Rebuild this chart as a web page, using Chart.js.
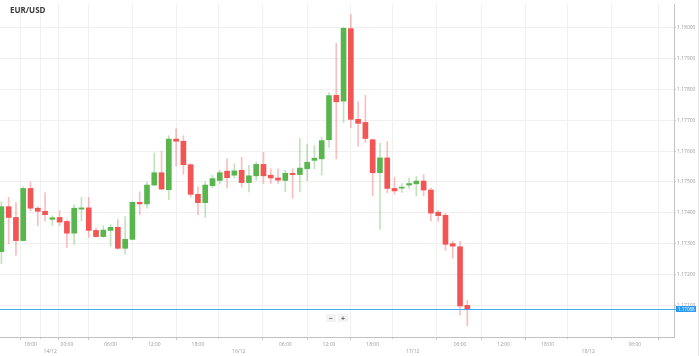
<!DOCTYPE html>
<html><head><meta charset="utf-8">
<script src="https://cdn.jsdelivr.net/npm/chart.js@4"></script>
<style>html,body{margin:0;padding:0;background:#fff;overflow:hidden}#wrap{width:699px;height:356px;position:relative}</style>
</head><body><div id="wrap"><canvas id="c" width="699" height="356"></canvas></div>
<script>
// EUR/USD hourly candles
const openP  = [1.17274,1.17420,1.17385,1.17310,1.17479,1.17415,1.17405,1.17379,1.17385,1.17372,
                1.17334,1.17412,1.17416,1.17343,1.17323,1.17343,1.17353,1.17285,1.17314,1.17434,
                1.17429,1.17490,1.17530,1.17475,1.17639,1.17632,1.17556,1.17460,1.17433,1.17488,
                1.17505,1.17535,1.17522,1.17538,1.17498,1.17520,1.17557,1.17522,1.17513,1.17505,
                1.17528,1.17524,1.17543,1.17570,1.17575,1.17637,1.17781,1.17762,1.17997,1.17703,
                1.17693,1.17637,1.17530,1.17578,1.17479,1.17480,1.17490,1.17494,1.17503,1.17474,
                1.17402,1.17392,1.17300,1.17290,1.17100];
const highP  = [1.17436,1.17450,1.17433,1.17484,1.17500,1.17420,1.17466,1.17390,1.17407,1.17378,
                1.17426,1.17450,1.17450,1.17351,1.17358,1.17362,1.17378,1.17388,1.17436,1.17468,
                1.17500,1.17594,1.17600,1.17650,1.17673,1.17650,1.17559,1.17484,1.17500,1.17522,
                1.17538,1.17575,1.17559,1.17580,1.17554,1.17564,1.17596,1.17543,1.17543,1.17538,
                1.17543,1.17641,1.17623,1.17618,1.17644,1.17789,1.17949,1.18002,1.18043,1.17760,
                1.17781,1.17639,1.17625,1.17631,1.17516,1.17495,1.17513,1.17518,1.17524,1.17481,
                1.17408,1.17399,1.17308,1.17308,1.17116];
const lowP   = [1.17235,1.17300,1.17263,1.17308,1.17406,1.17358,1.17374,1.17359,1.17358,1.17288,
                1.17298,1.17374,1.17321,1.17321,1.17321,1.17291,1.17282,1.17266,1.17312,1.17394,
                1.17415,1.17488,1.17475,1.17443,1.17551,1.17525,1.17451,1.17394,1.17385,1.17482,
                1.17495,1.17481,1.17513,1.17484,1.17468,1.17506,1.17495,1.17495,1.17495,1.17468,
                1.17447,1.17468,1.17504,1.17543,1.17522,1.17612,1.17575,1.17692,1.17676,1.17616,
                1.17628,1.17455,1.17346,1.17465,1.17460,1.17466,1.17479,1.17455,1.17455,1.17374,
                1.17372,1.17278,1.17253,1.17068,1.17034];
const closeP = [1.17420,1.17385,1.17310,1.17479,1.17415,1.17405,1.17394,1.17384,1.17370,1.17334,
                1.17415,1.17416,1.17343,1.17323,1.17344,1.17353,1.17285,1.17314,1.17434,1.17429,
                1.17490,1.17530,1.17477,1.17639,1.17632,1.17556,1.17460,1.17433,1.17490,1.17511,
                1.17530,1.17514,1.17536,1.17498,1.17520,1.17557,1.17520,1.17513,1.17506,1.17528,
                1.17524,1.17545,1.17564,1.17577,1.17634,1.17780,1.17760,1.17998,1.17703,1.17690,
                1.17641,1.17530,1.17578,1.17479,1.17471,1.17483,1.17495,1.17503,1.17474,1.17399,
                1.17391,1.17298,1.17292,1.17098,1.17088];

// x-axis ticks (candle-slot positions) and their labels
const tickPos    = [4, 6.7, 9, 15, 21, 27, 32.6, 39, 45, 51, 56.5, 63, 69, 75, 80.6, 87];
const tickLabels = ['18:00','14/12','00:00','06:00','12:00','18:00','16/12','06:00','12:00','18:00','17/12','06:00','12:00','18:00','18/12','06:00'];
// y-axis ticks
const yTicks = [1.171,1.172,1.173,1.174,1.175,1.176,1.177,1.178,1.179,1.180];
const lastPrice = 1.17088;
const symbol = 'EUR/USD';

const idx = openP.map((_, i) => i);
const isUp = i => closeP[i] >= openP[i];
const GREEN = '#59b64f', RED = '#f35454';
const GREEN_W = 'rgba(89,182,79,0.38)', RED_W = 'rgba(243,84,84,0.38)';
const FONT = 'Open Sans';

const overlay = {
  id: 'overlay',
  afterDraw(chart) {
    const {ctx, chartArea, scales} = chart;
    ctx.save();
    // last price line
    const y = Math.round(scales.y.getPixelForValue(lastPrice));
    ctx.fillStyle = '#3fb0f7';
    ctx.fillRect(chartArea.left, y, chartArea.right + 2 - chartArea.left, 1);
    // title
    ctx.fillStyle = '#3a3a3a';
    ctx.font = 'bold 8px "' + FONT + '"';
    ctx.textBaseline = 'alphabetic';
    ctx.textAlign = 'left';
    ctx.fillText(symbol, 10, 13);
    // last price tag
    ctx.fillStyle = '#2a9af0';
    ctx.fillRect(chartArea.right + 2, y - 3, 20, 6);
    ctx.fillStyle = '#ffffff';
    ctx.font = '4.5px "' + FONT + '"';
    ctx.textBaseline = 'middle';
    ctx.fillText(lastPrice.toFixed(5), chartArea.right + 4, y + 0.5);
    // zoom controls
    const cy = 318;
    [[331, '\u2212'], [343, '+']].forEach(([cx, t]) => {
      ctx.fillStyle = '#f3f3f3';
      ctx.fillRect(cx - 5, cy - 4, 10, 8);
      ctx.fillStyle = '#555';
      ctx.font = 'bold 7px "' + FONT + '"';
      ctx.textAlign = 'center';
      ctx.textBaseline = 'middle';
      ctx.fillText(t, cx, cy + 0.5);
    });
    // far right frame line
    ctx.fillStyle = '#e6e6e6';
    ctx.fillRect(698, 0, 1, 356);
    ctx.restore();
  }
};

new Chart(document.getElementById('c').getContext('2d'), {
  type: 'bar',
  data: {
    datasets: [
      { label: 'body', data: idx.map(i => ({x: i, y: [openP[i], closeP[i]]})),
        backgroundColor: idx.map(i => isUp(i) ? GREEN : RED),
        barThickness: 5, minBarLength: 1, grouped: false, order: 0 },
      { label: 'wick', data: idx.map(i => ({x: i, y: [lowP[i], highP[i]]})),
        backgroundColor: idx.map(i => isUp(i) ? GREEN_W : RED_W),
        barThickness: 1, grouped: false, order: 1 }
    ]
  },
  options: {
    responsive: false, animation: false,
    layout: { padding: 0 },
    plugins: { legend: { display: false }, tooltip: { enabled: false }, title: { display: false } },
    scales: {
      x: {
        type: 'linear', min: -0.19, max: 92.39, offset: false,
        afterBuildTicks: s => { s.ticks = tickPos.map(v => ({ value: v })); },
        afterFit: s => { s.height = 19; },
        ticks: {
          autoSkip: false, maxRotation: 0, minRotation: 0, padding: 1,
          font: { size: 5, family: FONT, lineHeight: 1.35 }, color: '#9a9a9a',
          callback: (v, i) => { const l = tickLabels[i]; return l.includes('/') ? ['', l] : l; }
        },
        grid: { color: '#f0f0f0', tickColor: '#c8c8c8', tickLength: 3,
                tickBorderDash: ctx => (tickLabels[ctx.index] || '').includes('/') ? [1, 1] : [] },
        border: { color: '#c2c2c2' }
      },
      y: {
        position: 'right', min: 1.169975, max: 1.180769,
        afterBuildTicks: s => { s.ticks = yTicks.map(v => ({ value: v })); },
        afterFit: s => { s.width = 25; },
        ticks: { padding: 1, font: { size: 5, family: FONT }, color: '#9a9a9a',
                 callback: v => Number(v).toFixed(5) },
        grid: { color: '#f0f0f0', tickColor: '#c8c8c8', tickLength: 2 },
        border: { color: '#c2c2c2' }
      }
    }
  },
  plugins: [overlay]
});
</script>
</body></html>
